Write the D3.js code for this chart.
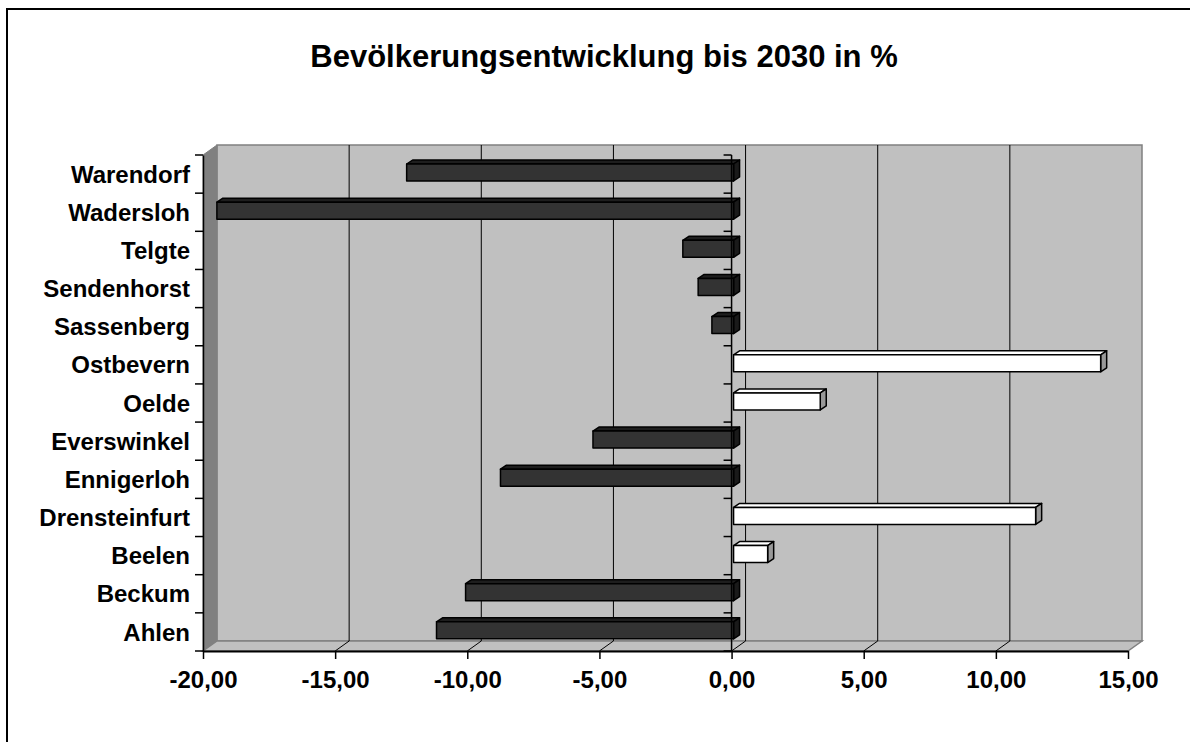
<!DOCTYPE html>
<html><head><meta charset="utf-8">
<script src="https://cdn.jsdelivr.net/npm/d3@7"></script>
<style>html,body{margin:0;padding:0;background:#fff;}svg{display:block;font-family:"Liberation Sans",Arial,sans-serif;}</style>
</head><body>
<svg id="c" width="1190" height="742"></svg>
<script>
const title = "Bevölkerungsentwicklung bis 2030 in %";
const categories = ["Ahlen","Beckum","Beelen","Drensteinfurt","Ennigerloh","Everswinkel","Oelde","Ostbevern","Sassenberg","Sendenhorst","Telgte","Wadersloh","Warendorf"];
const values = [-11.24,-10.14,1.29,11.43,-8.82,-5.32,3.28,13.89,-0.82,-1.34,-1.92,-19.55,-12.37];
const xTicks = [-20,-15,-10,-5,0,5,10,15];

const svg = d3.select("#c");
const pL = 203, pR = 1128, pT = 155, pB = 651;
const DX = 14, DY = -10;
const bdx = 6, bdy = -4;

const x = d3.scaleLinear().domain([-20,15]).range([pL,pR]);
const y = d3.scaleBand().domain(categories.slice().reverse()).range([pT,pB]).paddingInner(0).paddingOuter(0);
const loc = d3.formatLocale({decimal:",",thousands:".",grouping:[3],currency:["","€"],minus:"-"});
const fmt = loc.format(".2f");

// outer border
svg.append("rect").attr("x",7).attr("y",9).attr("width",1300).attr("height",900)
  .attr("fill","#fff").attr("stroke","#000").attr("stroke-width",2);

// title
svg.append("text").attr("x",604).attr("y",67).attr("text-anchor","middle")
  .attr("font-size",31).attr("font-weight","bold").text(title);

// back wall
svg.append("rect").attr("x",pL+DX).attr("y",pT+DY).attr("width",pR-pL).attr("height",pB-pT)
  .attr("fill","#c0c0c0").attr("stroke","#808080").attr("stroke-width",1.5);
// side wall
svg.append("polygon").attr("points",[[pL,pT],[pL+DX,pT+DY],[pL+DX,pB+DY],[pL,pB]].join(" "))
  .attr("fill","#808080").attr("stroke","#808080");
// floor
svg.append("polygon").attr("points",[[pL,pB],[pL+DX,pB+DY],[pR+DX,pB+DY],[pR,pB]].join(" "))
  .attr("fill","#c0c0c0").attr("stroke","#808080").attr("stroke-width",1.5);

// gridlines
const grid = svg.append("g").attr("stroke","#000").attr("stroke-width",1).attr("fill","none");
xTicks.slice(1,-1).forEach(t=>{
  const xb = x(t)+DX;
  grid.append("line").attr("x1",xb).attr("x2",xb).attr("y1",pT+DY).attr("y2",pB+DY);
  grid.append("line").attr("x1",xb).attr("x2",x(t)).attr("y1",pB+DY).attr("y2",pB);
});

// bars
const bars = svg.append("g");
categories.forEach((c,i)=>{
  const v = values[i];
  const x0 = x(Math.min(0,v))+2, x1 = x(Math.max(0,v))+2;
  const yt = y(c)+9, yb = y(c)+26;
  const neg = v<0;
  const g = bars.append("g").attr("stroke","#000").attr("stroke-width",1.5).attr("stroke-linejoin","round");
  g.append("polygon").attr("points",[[x0,yt],[x0+bdx,yt+bdy],[x1+bdx,yt+bdy],[x1,yt]].join(" "))
    .attr("fill",neg?"#1e1e1e":"#ffffff");
  g.append("polygon").attr("points",[[x1,yt],[x1+bdx,yt+bdy],[x1+bdx,yb+bdy],[x1,yb]].join(" "))
    .attr("fill",neg?"#1a1a1a":"#999999");
  g.append("rect").attr("x",x0).attr("y",yt).attr("width",x1-x0).attr("height",yb-yt)
    .attr("fill",neg?"#333333":"#ffffff");
});

// category axis at 0 (front plane)
const boundaries = y.domain().map(d=>y(d)).concat([pB]);
const zAx = svg.append("g").attr("stroke","#000").attr("stroke-width",1.5);
zAx.append("line").attr("x1",x(0)).attr("x2",x(0)).attr("y1",pT).attr("y2",pB);
boundaries.forEach(b=>zAx.append("line").attr("x1",x(0)-8).attr("x2",x(0)).attr("y1",b).attr("y2",b));

// left axis
const yAxis = d3.axisLeft(y).tickSize(0).tickPadding(13);
const ya = svg.append("g").attr("transform",`translate(${pL},0)`).call(yAxis);
ya.select(".domain").attr("stroke","#000").attr("stroke-width",1.5);
ya.selectAll("text").attr("font-size",24).attr("font-weight","bold").attr("fill","#000")
  .attr("font-family","'Liberation Sans',Arial,sans-serif").attr("dy","0.36em");
boundaries.forEach(b=>svg.append("line").attr("x1",pL-8).attr("x2",pL).attr("y1",b).attr("y2",b)
  .attr("stroke","#000").attr("stroke-width",1.5));

// x axis
const xAxis = d3.axisBottom(x).tickValues(xTicks).tickFormat(fmt).tickSizeInner(8).tickSizeOuter(0).tickPadding(12);
const xa = svg.append("g").attr("transform",`translate(0,${pB})`).call(xAxis);
xa.select(".domain").attr("stroke","#000").attr("stroke-width",2);
xa.selectAll(".tick line").attr("stroke","#000").attr("stroke-width",1.5);
xa.selectAll("text").attr("font-size",24).attr("font-weight","bold").attr("fill","#000")
  .attr("font-family","'Liberation Sans',Arial,sans-serif");
</script>
</body></html>
